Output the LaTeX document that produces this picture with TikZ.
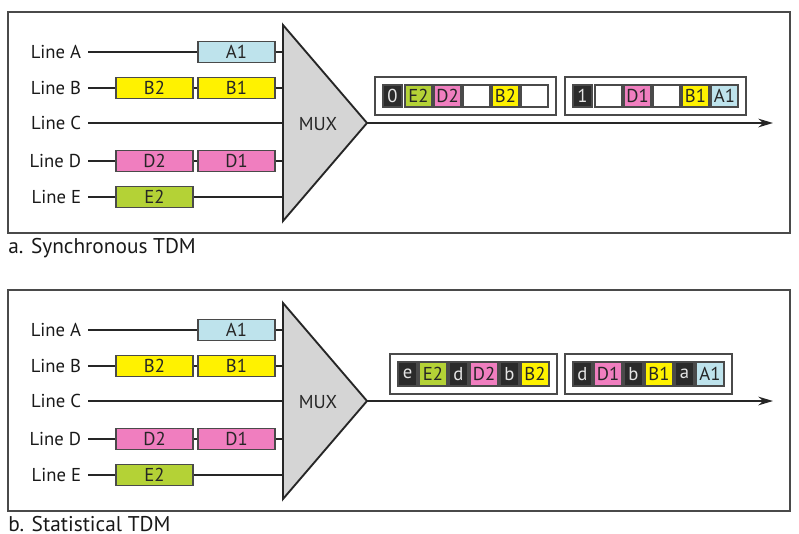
\documentclass[tikz,border=0pt]{standalone}
\usepackage{fontspec}
\setmainfont{PT Sans}
\usetikzlibrary{positioning,fit,arrows.meta}

\definecolor{cA}{HTML}{BEE3EC}
\definecolor{cB}{HTML}{FFF200}
\definecolor{cD}{HTML}{F07EBF}
\definecolor{cE}{HTML}{B4D236}
\definecolor{muxgray}{HTML}{D5D5D5}
\definecolor{tagblack}{HTML}{2B2B2B}
\definecolor{edge}{HTML}{4A4A4A}

\begin{document}
\begin{tikzpicture}[x=0.75pt,y=-0.75pt,>={Stealth[length=11pt,width=6.5pt]},
	wire/.style={line width=1.4pt,draw=black!85},
	frame/.style={draw=edge,line width=1.3pt},
	mux/.style={fill=muxgray,draw=black!85,line width=1.4pt},
	linelabel/.style={anchor=east,inner xsep=5pt,inner ysep=0pt,text=black!90,font=\fontsize{14}{16}\selectfont},
	inbox/.style={draw=edge,line width=1pt,minimum width=57.75pt,minimum height=15.75pt,inner sep=0pt,text=black!85,font=\fontsize{14}{16}\selectfont},
	tag/.style={fill=tagblack,draw=edge,line width=0.8pt,outer sep=0pt,minimum width=14.25pt,minimum height=16.5pt,inner sep=0pt,text=white!90!black,font=\fontsize{14}{16}\selectfont},
	slot/.style={fill=white,draw=edge,line width=0.8pt,outer sep=0pt,minimum width=20.25pt,minimum height=16.5pt,inner sep=0pt,text=black!85,font=\fontsize{14}{16}\selectfont},
	packet/.style={draw=edge,line width=1.1pt,inner sep=6pt,outer sep=0pt},
	caption/.style={anchor=base west,inner sep=0pt,text=black!90,font=\fontsize{16}{18}\selectfont}]
\useasboundingbox (0,0) rectangle (799,533);

% the two panels share the inputs and the multiplexer
\foreach \p/\dy/\kind in {a/0/Synchronous, b/278/Statistical} {
\begin{scope}[shift={(0,\dy)},name prefix=\p-]
	\draw[frame] (8,12) rectangle (790,233);
	\node[caption] (cap) at (8,253) {\p. \kind\ TDM};

	\coordinate (mt) at (283,25);
	\coordinate (mb) at (283,221);
	\coordinate (mo) at (367,123);

	\node[linelabel] (lA) at (88,52) {Line A};
	\node[linelabel] (lB) at (88,88) {Line B};
	\node[linelabel] (lC) at (88,123) {Line C};
	\node[linelabel] (lD) at (88,161) {Line D};
	\node[linelabel] (lE) at (88,197) {Line E};

	\node[inbox,fill=cA] (A1) at (236.5,52) {A1};
	\node[inbox,fill=cB] (B2) at (154.5,88) {B2};
	\node[inbox,fill=cB] (B1) at (236.5,88) {B1};
	\node[inbox,fill=cD] (D2) at (154.5,161) {D2};
	\node[inbox,fill=cD] (D1) at (236.5,161) {D1};
	\node[inbox,fill=cE] (E2) at (154.5,197) {E2};

	\draw[wire] (lA) -- (A1);
	\draw[wire] (A1) -- (A1 -| mt);
	\draw[wire] (lB) -- (B2);
	\draw[wire] (B2) -- (B1);
	\draw[wire] (B1) -- (B1 -| mt);
	\draw[wire] (lC) -- (lC -| mt);
	\draw[wire] (lD) -- (D2);
	\draw[wire] (D2) -- (D1);
	\draw[wire] (D1) -- (D1 -| mt);
	\draw[wire] (lE) -- (E2);
	\draw[wire] (E2) -- (E2 -| mt);

	\draw[mux] (mt) -- (mo) -- (mb) -- cycle;
	\node[font=\fontsize{14}{16}\selectfont,text=black!85] (mx) at (318,124) {MUX};

	\coordinate (end) at (773,123);
	\draw[wire,->] (mo) -- (end);
\end{scope}
}

% synchronous frames
\begin{scope}[name prefix=a-]
	\node[tag] (t0) at (392.5,96) {0};
	\node[slot,fill=cE,right=2.25pt of t0] (s1) {E2};
	\node[slot,fill=cD,right=1.5pt of s1] (s2) {D2};
	\node[slot,right=1.5pt of s2] (s3) {};
	\node[slot,fill=cB,right=1.5pt of s3] (s4) {B2};
	\node[slot,right=1.5pt of s4] (s5) {};
	\node[packet,fit=(t0)(s5)] (f0) {};

	\node[tag] (t1) at (582.5,96) {1};
	\node[slot,right=2.25pt of t1] (u1) {};
	\node[slot,fill=cD,right=1.5pt of u1] (u2) {D1};
	\node[slot,right=1.5pt of u2] (u3) {};
	\node[slot,fill=cB,right=1.5pt of u3] (u4) {B1};
	\node[slot,fill=cA,right=1.5pt of u4] (u5) {A1};
	\node[packet,fit=(t1)(u5)] (f1) {};
\end{scope}

% statistical frames
\begin{scope}[shift={(0,278)},name prefix=b-,
	tag/.append style={minimum height=18pt},
	slot/.append style={minimum width=21pt,minimum height=18pt}]
	\node[tag] (t0) at (407.5,96) {e};
	\node[slot,fill=cE,right=1.5pt of t0] (s1) {E2};
	\node[tag,right=1.5pt of s1] (s2) {d};
	\node[slot,fill=cD,right=1.5pt of s2] (s3) {D2};
	\node[tag,right=1.5pt of s3] (s4) {b};
	\node[slot,fill=cB,right=1.5pt of s4] (s5) {B2};
	\node[packet,fit=(t0)(s5)] (f0) {};

	\node[tag] (t1) at (582.5,96) {d};
	\node[slot,fill=cD,right=1.5pt of t1] (u1) {D1};
	\node[tag,right=1.5pt of u1] (u2) {b};
	\node[slot,fill=cB,right=1.5pt of u2] (u3) {B1};
	\node[tag,right=1.5pt of u3] (u4) {a};
	\node[slot,fill=cA,right=1.5pt of u4] (u5) {A1};
	\node[packet,fit=(t1)(u5)] (f1) {};
\end{scope}
\end{tikzpicture}
\end{document}
